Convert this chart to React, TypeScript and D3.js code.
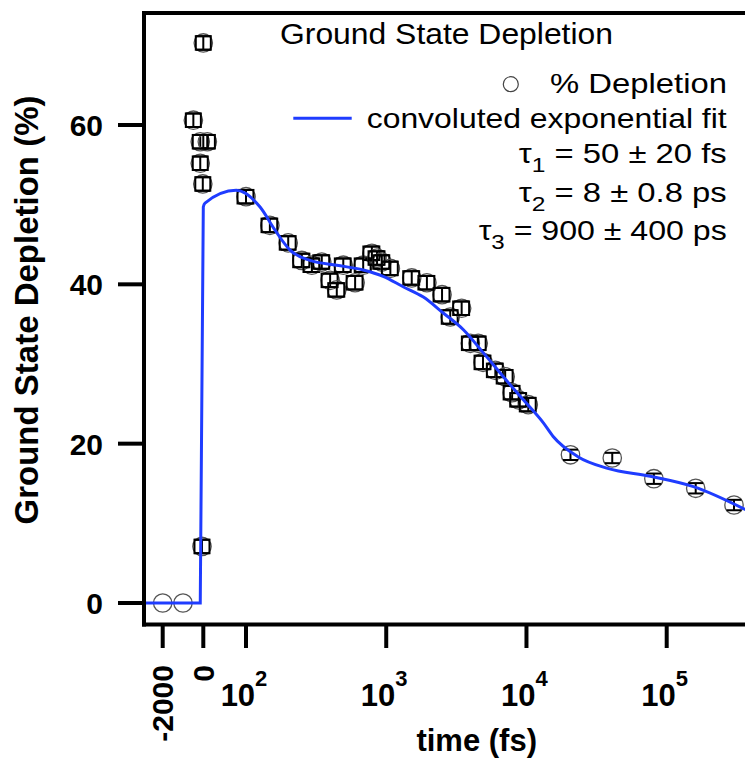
import React from 'react';
import * as d3 from 'd3';

// ---------- data ----------
const yTickValues = [0, 20, 40, 60];
const xLinTicks = [-2000, 0];
const xLogTickExps = [2, 3, 4, 5];

// measured points: time (fs), depletion (%), y-error (%), x-error (fs)
const pointTime = [
  -2000, -1000,
  -490, -150, 53, -150, -25, 0, -65,
  100, 148, 200, 250, 295, 347, 398, 444, 494, 600, 685, 790, 860, 930, 1070,
  1520, 1950, 2500, 2860, 3450, 3980, 4530, 4900, 6000, 7050, 7900, 8800, 10300,
  20600, 40900, 81000, 161000, 302000,
];
const pointValue = [
  0, 0,
  60.6, 57.9, 57.9, 55.2, 52.6, 70.3, 7.1,
  51.0, 47.4, 45.2, 43.0, 42.4, 42.8, 40.5, 39.3, 42.4, 40.2, 42.4, 43.9, 43.3, 42.8, 42.0,
  40.8, 40.2, 38.7, 35.9, 37.0, 32.6, 32.6, 30.2, 29.2, 28.4, 26.4, 25.5, 24.9,
  18.6, 18.2, 15.6, 14.4, 12.3,
];
const pointYErr = [
  0, 0,
  0.85, 0.85, 0.85, 0.85, 0.85, 0.85, 0.85,
  0.85, 0.85, 0.85, 0.85, 0.85, 0.85, 0.85, 0.85, 0.85, 0.85, 0.85, 0.85, 0.85, 0.85, 0.85,
  0.85, 0.85, 0.85, 0.85, 0.85, 0.85, 0.85, 0.85, 0.85, 0.85, 0.85, 0.85, 0.85,
  0.65, 0.65, 0.65, 0.65, 0.65,
];
const pointXErr = [
  0, 0,
  370, 370, 7, 370, 370, 370, 370,
  13, 19, 26, 33, 38, 45, 52, 58, 64, 78, 89, 103, 112, 121, 139,
  198, 254, 325, 372, 449, 517, 589, 637, 780, 917, 1027, 1144, 1339,
  0, 0, 0, 0, 0,
];

// convoluted exponential fit
const fitTime = [
  -3000, -150, 0, 51, 85, 126, 161, 206, 286, 444, 685, 950, 1320, 1840, 2550,
  3550, 4930, 6840, 9500, 13200, 15500, 23100, 37900, 76400, 155000, 366000,
];
const fitValue = [
  0, 0, 49.7, 50.2, 51.8, 49.7, 46.8, 44.3, 43.0, 42.4, 41.8, 41.0, 39.7, 38.4, 36.4,
  34.3, 31.4, 28.4, 25.5, 22.6, 20.9, 18.4, 16.9, 15.9, 14.6, 11.7,
];

const legendTitle = 'Ground State Depletion';
const legendPointLabel = '% Depletion';
const legendFitLabel = 'convoluted exponential fit';
const tauSubs = ['1', '2', '3'];
const tauTexts = [' = 50 ± 20 fs', ' = 8 ± 0.8 ps', ' = 900 ± 400 ps'];
const yAxisTitle = 'Ground State Depletion (%)';
const xAxisTitle = 'time (fs)';

// ---------- layout ----------
const W = 745;
const H = 760;
const left = 144;
const top = 13;
const bottom = 624.5;
const FONT = 'Liberation Sans, Arial, Helvetica, sans-serif';
const BLUE = '#1f3cff';

const linX = d3.scaleLinear().domain([-2000, 0]).range([162.7, 203.3]);
const logX = d3.scaleLog().domain([100, 100000]).range([246, 666.7]);
const xPos = (t: number) => (t <= 0 ? linX(t) : Math.max(logX(t), linX(0)));
const yScale = d3.scaleLinear().domain([0, 60]).range([603, 125]);

const cap = 7.5;

export default function App() {
  const fitData = fitTime.map((t, i) => ({ t, v: fitValue[i] }));
  const line = d3
    .line<{ t: number; v: number }>()
    .x((d) => xPos(d.t))
    .y((d) => yScale(d.v))
    .curve(d3.curveMonotoneX);

  const tauBaselines = [163.3, 201.7, 240];
  const tauLengths = [208, 208, 248];

  return (
    <svg
      width={W}
      height={H}
      viewBox={`0 0 ${W} ${H}`}
      style={{ position: 'absolute', left: 0, top: 0, background: '#fff' }}
      fontFamily={FONT}
    >
      <defs>
        <clipPath id="plotClip">
          <rect x={left} y={top} width={W - left} height={bottom - top} />
        </clipPath>
      </defs>
      <rect x={0} y={0} width={W} height={H} fill="#fff" />

      {/* markers */}
      <g clipPath="url(#plotClip)">
        {pointTime.map((t, i) => {
          const v = pointValue[i];
          const ye = pointYErr[i];
          const xe = pointXErr[i];
          const cx = xPos(t);
          const cy = yScale(v);
          const yTop = yScale(v + ye);
          const yBot = yScale(v - ye);
          const inLinear = t <= 0;
          const bx0 = inLinear ? linX(t - xe) : xPos(t - xe);
          const bx1 = inLinear ? linX(t + xe) : xPos(t + xe);
          return (
            <g key={i}>
              <circle cx={cx} cy={cy} r={9.2} fill="none" stroke="#555" strokeWidth={1.3} />
              {ye > 0 && (
                <g stroke="#000" strokeWidth={2}>
                  <line x1={cx} x2={cx} y1={yTop} y2={yBot} />
                  <line x1={cx - cap} x2={cx + cap} y1={yTop} y2={yTop} />
                  <line x1={cx - cap} x2={cx + cap} y1={yBot} y2={yBot} />
                </g>
              )}
              {xe > 0 && (
                <rect
                  x={bx0}
                  y={yTop}
                  width={bx1 - bx0}
                  height={yBot - yTop}
                  fill="none"
                  stroke="#000"
                  strokeWidth={2}
                />
              )}
            </g>
          );
        })}
        <path d={line(fitData) || ''} fill="none" stroke={BLUE} strokeWidth={3} />
      </g>

      {/* frame */}
      <g stroke="#000" strokeWidth={4} fill="none">
        <line x1={left} x2={left} y1={top - 2} y2={bottom + 2} />
        <line x1={left - 2} x2={W} y1={top} y2={top} />
        <line x1={left - 2} x2={W} y1={bottom} y2={bottom} />
      </g>

      {/* y axis */}
      {yTickValues.map((v) => (
        <g key={v}>
          <line x1={118} x2={left} y1={yScale(v)} y2={yScale(v)} stroke="#000" strokeWidth={4} />
          <text
            x={103}
            y={yScale(v) + 11}
            textAnchor="end"
            fontSize={30}
            fontWeight="bold"
          >
            {v}
          </text>
        </g>
      ))}
      <text
        transform={`translate(38,310) rotate(-90)`}
        textAnchor="middle"
        fontSize={33}
        fontWeight="bold"
      >
        {yAxisTitle}
      </text>

      {/* x axis ticks */}
      {xLinTicks.map((t) => (
        <g key={'l' + t}>
          <line x1={xPos(t)} x2={xPos(t)} y1={bottom} y2={648} stroke="#000" strokeWidth={4} />
          <text
            transform={`translate(${xPos(t) + 10.5},665) rotate(-90)`}
            textAnchor="end"
            fontSize={30}
            fontWeight="bold"
          >
            {t}
          </text>
        </g>
      ))}
      {xLogTickExps.map((e) => {
        const x = logX(Math.pow(10, e));
        return (
          <g key={'e' + e}>
            <line x1={x} x2={x} y1={bottom} y2={648} stroke="#000" strokeWidth={4} />
            <text x={x - 2} y={706} textAnchor="middle" fontSize={31} fontWeight="bold">
              <tspan>10</tspan>
              <tspan dy={-20} fontSize={22}>
                {e}
              </tspan>
            </text>
          </g>
        );
      })}
      <text x={476.7} y={751} textAnchor="middle" fontSize={31} fontWeight="bold">
        {xAxisTitle}
      </text>

      {/* legend */}
      <text x={280} y={44.3} fontSize={29} textLength={333} lengthAdjust="spacingAndGlyphs">
        {legendTitle}
      </text>
      <circle cx={510.8} cy={84.2} r={7.5} fill="none" stroke="#444" strokeWidth={1.2} />
      <text x={550} y={92.5} fontSize={28} textLength={177} lengthAdjust="spacingAndGlyphs">
        {legendPointLabel}
      </text>
      <line x1={293.3} x2={351.7} y1={118.3} y2={118.3} stroke={BLUE} strokeWidth={3} />
      <text x={366.7} y={128.3} fontSize={28} textLength={360} lengthAdjust="spacingAndGlyphs">
        {legendFitLabel}
      </text>
      {tauSubs.map((s, i) => (
        <text
          key={s}
          x={726.7 - tauLengths[i]}
          y={tauBaselines[i]}
          fontSize={28}
          textLength={tauLengths[i]}
          lengthAdjust="spacingAndGlyphs"
        >
          <tspan>τ</tspan>
          <tspan dy={9} fontSize={21}>
            {s}
          </tspan>
          <tspan dy={-9}>{tauTexts[i]}</tspan>
        </text>
      ))}
    </svg>
  );
}
